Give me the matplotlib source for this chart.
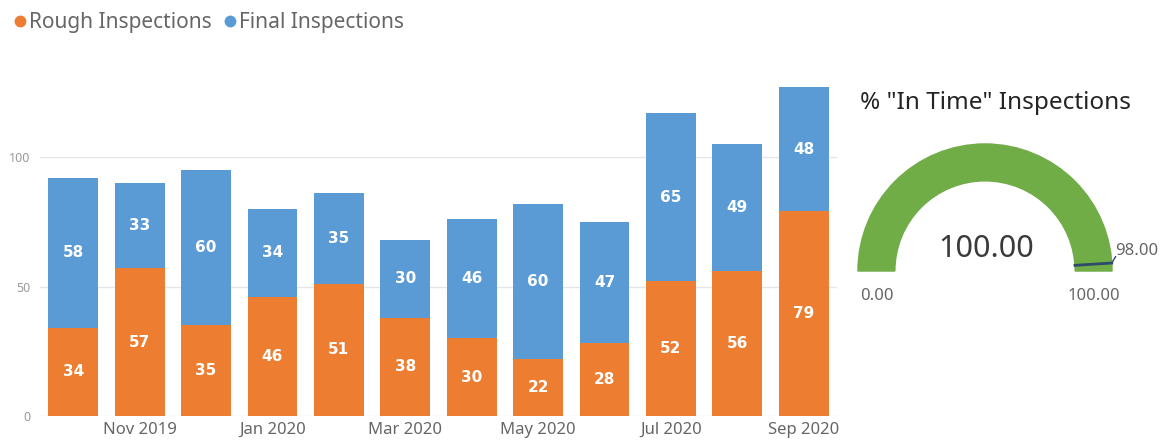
import numpy as np
import matplotlib.pyplot as plt
from matplotlib.patches import Wedge
from matplotlib.lines import Line2D

plt.rcParams["font.family"] = ["Noto Sans", "DejaVu Sans"]

# monthly inspection counts, Oct 2019 - Sep 2020
months = ["Oct 2019", "Nov 2019", "Dec 2019", "Jan 2020", "Feb 2020", "Mar 2020",
          "Apr 2020", "May 2020", "Jun 2020", "Jul 2020", "Aug 2020", "Sep 2020"]
rough = [34, 57, 35, 46, 51, 38, 30, 22, 28, 52, 56, 79]
final = [58, 33, 60, 34, 35, 30, 46, 60, 47, 65, 49, 48]

# gauge values
gauge_min = 0.0
gauge_max = 100.0
gauge_value = 100.0
gauge_target = 98.0

orange = "#ED7D31"
blue = "#5B9BD5"
green = "#70AD47"
grey_txt = "#666666"

fig = plt.figure(figsize=(11.75, 4.48), dpi=100)
W, H = 1175, 448

# ---- stacked bar chart
ax = fig.add_axes([40 / W, 1 - 416 / H, 797 / W, (416 - 84.5) / H])
x = np.arange(len(months))
rough = np.array(rough)
final = np.array(final)
ax.bar(x, rough, width=0.75, color=orange, zorder=2)
ax.bar(x, final, bottom=rough, width=0.75, color=blue, zorder=2)

for i in range(len(x)):
    ax.text(x[i], rough[i] / 2, str(rough[i]), ha="center", va="center",
            color="white", fontsize=11, fontweight="bold", family="DejaVu Sans")
    ax.text(x[i], rough[i] + final[i] / 2, str(final[i]), ha="center",
            va="center", color="white", fontsize=11, fontweight="bold",
            family="DejaVu Sans")

ax.set_xlim(-0.5, 11.5)
ax.set_ylim(0, 128)
ax.set_yticks([0, 50, 100])
ax.set_xticks(x[1::2])
ax.set_xticklabels(months[1::2])
ax.tick_params(axis="x", length=0, labelsize=12, labelcolor=grey_txt, pad=4)
ax.tick_params(axis="y", length=0, labelsize=9, labelcolor="#999999", pad=7)
ax.grid(axis="y", color="#E6E6E6", linewidth=1, zorder=0)
for s in ax.spines.values():
    s.set_visible(False)

# legend
handles = [Line2D([], [], marker="o", linestyle="", color=orange, markersize=7.5),
           Line2D([], [], marker="o", linestyle="", color=blue, markersize=7.5)]
fig.legend(handles, ["Rough Inspections", "Final Inspections"], loc="upper left",
           bbox_to_anchor=(0.0, 1.005), ncol=2, frameon=False, fontsize=15,
           labelcolor=grey_txt, handlelength=0.5, handletextpad=0.2,
           columnspacing=0.6, borderaxespad=0.3)

# ---- gauge
fig.text(860 / W, 1 - 103 / H, '% "In Time" Inspections', fontsize=17.5,
         color="#252423", va="center", ha="left")

gx = fig.add_axes([845 / W, 1 - 320 / H, 330 / W, 190 / H])
R = 127.0
gx.set_xlim((845 - 985) / R, (1175 - 985) / R)
gx.set_ylim((271 - 320) / R, (271 - 130) / R)
gx.axis("off")

r_in = 0.71
frac = (gauge_value - gauge_min) / (gauge_max - gauge_min)
gx.add_patch(Wedge((0, 0), 1.0, 0, 180, width=1 - r_in, color="#E9E9E9"))
gx.add_patch(Wedge((0, 0), 1.0, 180 - 180 * frac, 180, width=1 - r_in,
                   color=green))

# target marker
tf = (gauge_target - gauge_min) / (gauge_max - gauge_min)
ang = np.deg2rad(180 - 180 * tf)
gx.plot([r_in * np.cos(ang), np.cos(ang)], [r_in * np.sin(ang), np.sin(ang)],
        color="#2E4A6B", linewidth=2)
gx.plot([np.cos(ang), np.cos(ang) + 0.03], [np.sin(ang), np.sin(ang) + 0.05],
        color="#2E4A6B", linewidth=1)
gx.text(np.cos(ang) + 0.03, np.sin(ang) + 0.03, f"{gauge_target:.2f}",
        fontsize=12, color=grey_txt, ha="left", va="bottom")

gx.text(0.01, 0.17, f"{gauge_value:.2f}", fontsize=22, color="#3A3A3A",
        ha="center", va="center")
gx.text(-(1 + r_in) / 2, -0.2, f"{gauge_min:.2f}", fontsize=12,
        color=grey_txt, ha="center", va="center")
gx.text((1 + r_in) / 2, -0.2, f"{gauge_max:.2f}", fontsize=12,
        color=grey_txt, ha="center", va="center")

fig.savefig("out.png", dpi=100, facecolor="white")
